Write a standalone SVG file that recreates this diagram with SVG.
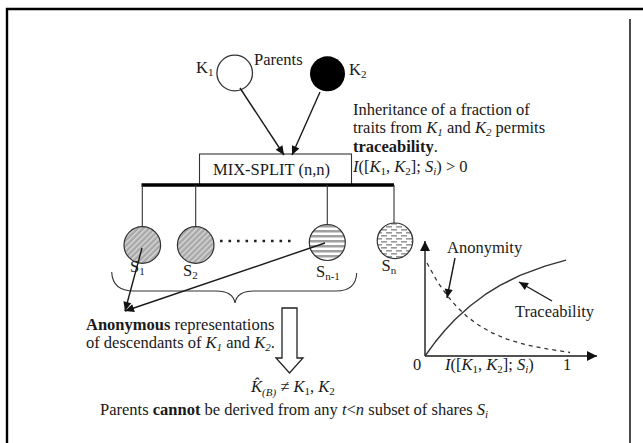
<svg xmlns="http://www.w3.org/2000/svg" width="643" height="443" viewBox="0 0 643 443">
<style>
text{font-family:"Liberation Serif","Times New Roman",serif;font-size:16.5px;fill:#1a1a1a}
.i{font-style:italic}
.b{font-weight:bold}
.sub{font-size:11px}
.ln{stroke:#1a1a1a;stroke-width:1.4;fill:none}
.thin{stroke:#333;stroke-width:1.1;fill:none}
</style>
<defs>
<marker id="ah" viewBox="0 0 10 10" refX="10" refY="5" markerWidth="11" markerHeight="9" markerUnits="userSpaceOnUse" orient="auto"><path d="M0,0.5 L10,5 L0,9.5 z" fill="#111"/></marker>
<marker id="ax" viewBox="0 0 10 10" refX="10" refY="5" markerWidth="12" markerHeight="10" markerUnits="userSpaceOnUse" orient="auto"><path d="M0,0 L10,5 L0,10 z" fill="#111"/></marker>
<pattern id="diag" patternUnits="userSpaceOnUse" width="4" height="4" patternTransform="rotate(45)"><rect width="4" height="4" fill="#a8a8a8"/><rect width="1.5" height="4" fill="#d6d6d6"/></pattern>
<pattern id="horiz" patternUnits="userSpaceOnUse" width="6" height="5"><rect width="6" height="5" fill="#fff"/><rect width="6" height="2.5" fill="#a0a0a0"/></pattern>
<pattern id="brick" patternUnits="userSpaceOnUse" width="10" height="6"><rect width="10" height="6" fill="#fff"/><rect x="1" y="1" width="6" height="1.6" fill="#999"/><rect x="6" y="4" width="4" height="1.6" fill="#999"/><rect x="0" y="4" width="2" height="1.6" fill="#999"/></pattern>
</defs>

<!-- frame -->
<path d="M7,443 L7,9 L643,9" fill="none" stroke="#000" stroke-width="2.4"/>
<line x1="630" y1="19" x2="630" y2="443" stroke="#111" stroke-width="1.5"/>

<g id="parent-k1">
<circle cx="234.7" cy="73" r="17.8" fill="#fff" stroke="#333" stroke-width="1.3"/>
<text x="196" y="73">K<tspan class="sub" dy="3">1</tspan></text>
</g>
<g id="parents-label"><text x="254" y="65">Parents</text></g>
<g id="parent-k2">
<circle cx="327.5" cy="73.8" r="17.5" fill="#000"/>
<text x="349" y="75">K<tspan class="sub" dy="3">2</tspan></text>
</g>

<g id="mix-split">
<rect x="199.5" y="154" width="152" height="31" fill="#fff" stroke="#333" stroke-width="1.1"/>
<text x="213" y="175">MIX-SPLIT (n,n)</text>
</g>

<g id="inheritance-note">
<text x="353" y="115">Inheritance of a fraction of</text>
<text x="353" y="133">traits from <tspan class="i">K</tspan><tspan class="sub i" dy="3">1</tspan><tspan dy="-3"> and </tspan><tspan class="i">K</tspan><tspan class="sub i" dy="3">2</tspan><tspan dy="-3"> permits</tspan></text>
<text x="353" y="151.5"><tspan class="b">traceability</tspan>.</text>
<text x="353" y="171.5"><tspan class="i">I</tspan>([<tspan class="i">K</tspan><tspan class="sub" dy="3">1</tspan><tspan dy="-3">, </tspan><tspan class="i">K</tspan><tspan class="sub" dy="3">2</tspan><tspan dy="-3">]; </tspan><tspan class="i">S</tspan><tspan class="sub i" dy="3">i</tspan><tspan dy="-3">) &gt; 0</tspan></text>
</g>

<g id="share-s1">
<circle cx="142.3" cy="245" r="18.3" fill="url(#diag)" stroke="#333" stroke-width="1.2"/>
<text x="130" y="271.5">S<tspan class="sub" dy="3">1</tspan></text>
</g>
<g id="share-s2">
<circle cx="195.7" cy="245" r="18.3" fill="url(#diag)" stroke="#333" stroke-width="1.2"/>
<text x="183" y="276">S<tspan class="sub" dy="3">2</tspan></text>
</g>
<g id="dots"><line x1="220" y1="241" x2="291" y2="241" stroke="#222" stroke-width="2.6" stroke-dasharray="2.6 5.9"/></g>
<g id="share-sn-1">
<circle cx="327.3" cy="242.5" r="18" fill="url(#horiz)" stroke="#333" stroke-width="1.2"/>
<text x="316" y="277">S<tspan class="sub" dy="3">n-1</tspan></text>
</g>
<g id="share-sn">
<circle cx="395" cy="240.8" r="17.8" fill="url(#brick)" stroke="#333" stroke-width="1.2"/>
<text x="381.5" y="271">S<tspan class="sub" dy="3">n</tspan></text>
</g>

<g id="brace"><path d="M111.7,272 Q112.5,291 134,291 L216,291 Q233,291 235,303 Q237,291 254,291 L336,291 Q356,291 356.7,273" class="thin"/></g>

<g id="anonymous-note">
<text x="86" y="330"><tspan class="b">Anonymous</tspan> representations</text>
<text x="86" y="348">of descendants of <tspan class="i">K</tspan><tspan class="sub i" dy="3">1</tspan><tspan dy="-3"> and </tspan><tspan class="i">K</tspan><tspan class="sub i" dy="3">2</tspan><tspan dy="-3">.</tspan></text>
</g>

<g id="hollow-arrow"><path d="M282,308 L297,308 L297,358 L303,358 L289.5,373 L276,358 L282,358 Z" fill="#fff" stroke="#222" stroke-width="1.3"/></g>

<g id="result">
<text x="251" y="392"><tspan class="i">K&#x302;</tspan><tspan class="sub i" dy="4">(B)</tspan><tspan dy="-4"> ≠ </tspan><tspan class="i">K</tspan><tspan class="sub" dy="3">1</tspan><tspan dy="-3">, </tspan><tspan class="i">K</tspan><tspan class="sub" dy="3">2</tspan></text>
</g>

<g id="conclusion">
<text x="100" y="415">Parents <tspan class="b">cannot</tspan> be derived from any <tspan class="i">t</tspan>&lt;<tspan class="i">n</tspan> subset of shares <tspan class="i">S</tspan><tspan class="sub i" dy="3">i</tspan></text>
</g>

<g id="graph">
<line x1="425" y1="356" x2="425" y2="241" class="ln" marker-end="url(#ax)"/>
<line x1="425" y1="356" x2="597" y2="356" class="ln" marker-end="url(#ax)"/>
<polyline points="427,263 437,281 447,295.4 457,307.1 467,316.5 477,324.1 492,332.8 507,339.2 527,345 547,348.9 570,352.5" fill="none" stroke="#333" stroke-width="1.3" stroke-dasharray="4 4"/>
<polyline points="425,356 435,342.3 445,330.2 455,319.5 470,306 485,294.7 500,285.4 520,275.4 545,266.1 566,260.2" fill="none" stroke="#333" stroke-width="1.4" stroke-linejoin="round"/>
<text x="447" y="253">Anonymity</text>
<text x="515" y="317">Traceability</text>
<text x="413" y="370">0</text>
<text x="445" y="370"><tspan class="i">I</tspan>([<tspan class="i">K</tspan><tspan class="sub" dy="3">1</tspan><tspan dy="-3">, </tspan><tspan class="i">K</tspan><tspan class="sub" dy="3">2</tspan><tspan dy="-3">]; </tspan><tspan class="i">S</tspan><tspan class="sub i" dy="3">i</tspan><tspan dy="-3">)</tspan></text>
<text x="563" y="370">1</text>
</g>

<g id="connectors">
<line x1="240" y1="88" x2="284" y2="155" class="ln" marker-end="url(#ah)"/>
<line x1="320" y1="92" x2="292" y2="155" class="ln" marker-end="url(#ah)"/>
<line x1="141.5" y1="185" x2="394" y2="185" stroke="#000" stroke-width="3.6"/>
<line x1="142.3" y1="185" x2="142.3" y2="226.7" class="thin"/>
<line x1="195.7" y1="185" x2="195.7" y2="226.7" class="thin"/>
<line x1="327.3" y1="185" x2="327.3" y2="224.5" class="thin"/>
<line x1="394" y1="185" x2="394" y2="223" class="thin"/>
<line x1="142" y1="248" x2="125" y2="311" class="ln" marker-end="url(#ah)"/>
<line x1="325" y1="243" x2="125" y2="311" class="ln" marker-end="url(#ah)"/>
<line x1="455" y1="258" x2="447" y2="298" class="ln" marker-end="url(#ah)"/>
<line x1="552" y1="301" x2="519" y2="282" class="ln" marker-end="url(#ah)"/>
</g>
</svg>
